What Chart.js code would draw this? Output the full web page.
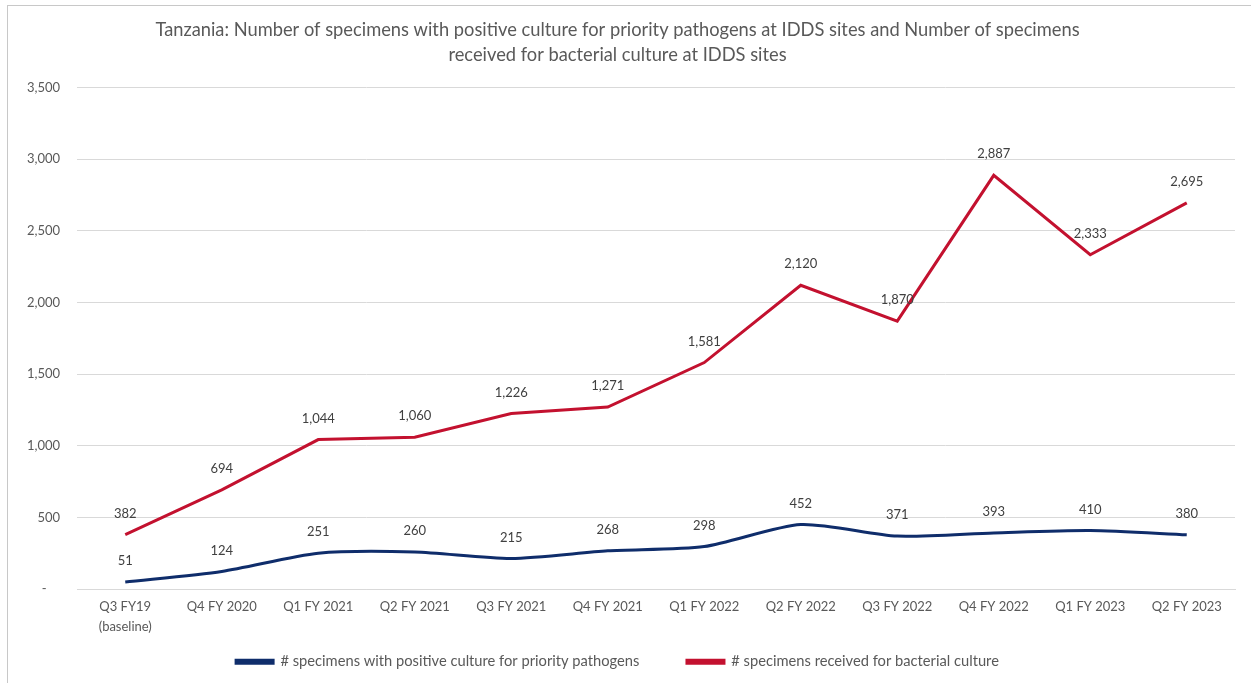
<!DOCTYPE html>
<html lang="en">
<head>
    <meta charset="UTF-8">
    <title>Tanzania IDDS specimens</title>
    <script src="https://cdn.jsdelivr.net/npm/chart.js"></script>
    <style>
        body {
            margin: 0;
            padding: 0;
            background: #fff;
        }
        .frame {
            position: absolute;
            left: 7px;
            top: 5px;
            width: 1244px;
            height: 678px;
            border-left: 1px solid #c8c8c8;
            border-top: 1px solid #c8c8c8;
        }
        .wrap {
            position: absolute;
            left: 0;
            top: 0;
            width: 1251px;
            height: 683px;
        }
    </style>
</head>
<body>
    <div class="frame"></div>
    <div class="wrap">
        <canvas id="chart"></canvas>
    </div>

    <script>
        // data
        const quarters = [
            ['Q3 FY19', '(baseline)'], 'Q4 FY 2020', 'Q1 FY 2021', 'Q2 FY 2021',
            'Q3 FY 2021', 'Q4 FY 2021', 'Q1 FY 2022', 'Q2 FY 2022',
            'Q3 FY 2022', 'Q4 FY 2022', 'Q1 FY 2023', 'Q2 FY 2023'
        ];
        const positiveCulture = [51, 124, 251, 260, 215, 268, 298, 452, 371, 393, 410, 380];
        const receivedCulture = [382, 694, 1044, 1060, 1226, 1271, 1581, 2120, 1870, 2887, 2333, 2695];
        const yTicks = [0, 500, 1000, 1500, 2000, 2500, 3000, 3500];

        const fontFamily = "Lato, 'Liberation Sans Narrow', 'DejaVu Sans Condensed', sans-serif";
        const textGray = '#595959';

        // simple value labels above each point
        const valueLabels = {
            id: 'valueLabels',
            afterDatasetsDraw(chart) {
                const ctx = chart.ctx;
                ctx.save();
                ctx.font = '13px ' + fontFamily;
                ctx.fillStyle = '#404040';
                ctx.textAlign = 'center';
                ctx.textBaseline = 'middle';
                chart.data.datasets.forEach((ds, i) => {
                    const meta = chart.getDatasetMeta(i);
                    meta.data.forEach((pt, j) => {
                        ctx.fillText(ds.data[j].toLocaleString('en-US'), pt.x, pt.y - 21);
                    });
                });
                ctx.restore();
            }
        };

        const ctx = document.getElementById('chart').getContext('2d');
        new Chart(ctx, {
            type: 'line',
            data: {
                labels: quarters,
                datasets: [
                    {
                        label: '# specimens with positive culture for priority pathogens',
                        data: positiveCulture,
                        borderColor: '#0f2d6b',
                        backgroundColor: '#0f2d6b',
                        borderWidth: 3,
                        pointRadius: 0,
                        tension: 0.25,
                        fill: false
                    },
                    {
                        label: '# specimens received for bacterial culture',
                        data: receivedCulture,
                        borderColor: '#c3112f',
                        backgroundColor: '#c3112f',
                        borderWidth: 3,
                        pointRadius: 0,
                        tension: 0,
                        fill: false
                    }
                ]
            },
            options: {
                responsive: true,
                maintainAspectRatio: false,
                animation: false,
                layout: {
                    padding: { left: 0, right: 16, top: 0, bottom: 4 }
                },
                plugins: {
                    title: {
                        display: true,
                        text: [
                            'Tanzania: Number of specimens with positive culture for priority pathogens at IDDS sites and Number of specimens',
                            'received for bacterial culture at IDDS sites'
                        ],
                        color: textGray,
                        font: { family: fontFamily, size: 18.3, weight: 'normal', lineHeight: 1.35 },
                        padding: { top: 18, bottom: 20 }
                    },
                    legend: {
                        position: 'bottom',
                        labels: {
                            color: textGray,
                            font: { family: fontFamily, size: 14.7 },
                            boxWidth: 37,
                            boxHeight: 3,
                            padding: 10,
                            generateLabels(chart) {
                                const items = Chart.defaults.plugins.legend.labels.generateLabels(chart);
                                items[0].text = items[0].text + '          ';
                                return items;
                            }
                        }
                    },
                    tooltip: { enabled: false }
                },
                scales: {
                    x: {
                        offset: true,
                        grid: { display: false, drawTicks: false },
                        border: { display: true, color: '#d9d9d9', width: 1 },
                        ticks: {
                            color: textGray,
                            font: { family: fontFamily, size: 13, lineHeight: 1.5 },
                            padding: 8,
                            maxRotation: 0,
                            autoSkip: false
                        },
                        afterFit(scale) { scale.height = 55; }
                    },
                    y: {
                        min: 0,
                        max: 3500,
                        afterBuildTicks(scale) {
                            scale.ticks = yTicks.map(v => ({ value: v }));
                        },
                        grid: { color: '#d9d9d9', drawTicks: false },
                        border: { display: false },
                        ticks: {
                            color: textGray,
                            font: { family: fontFamily, size: 13 },
                            padding: 17,
                            callback: v => v === 0 ? '-    ' : v.toLocaleString('en-US')
                        },
                        afterFit(scale) { scale.width = 77; }
                    }
                }
            },
            plugins: [valueLabels]
        });
    </script>
</body>
</html>
